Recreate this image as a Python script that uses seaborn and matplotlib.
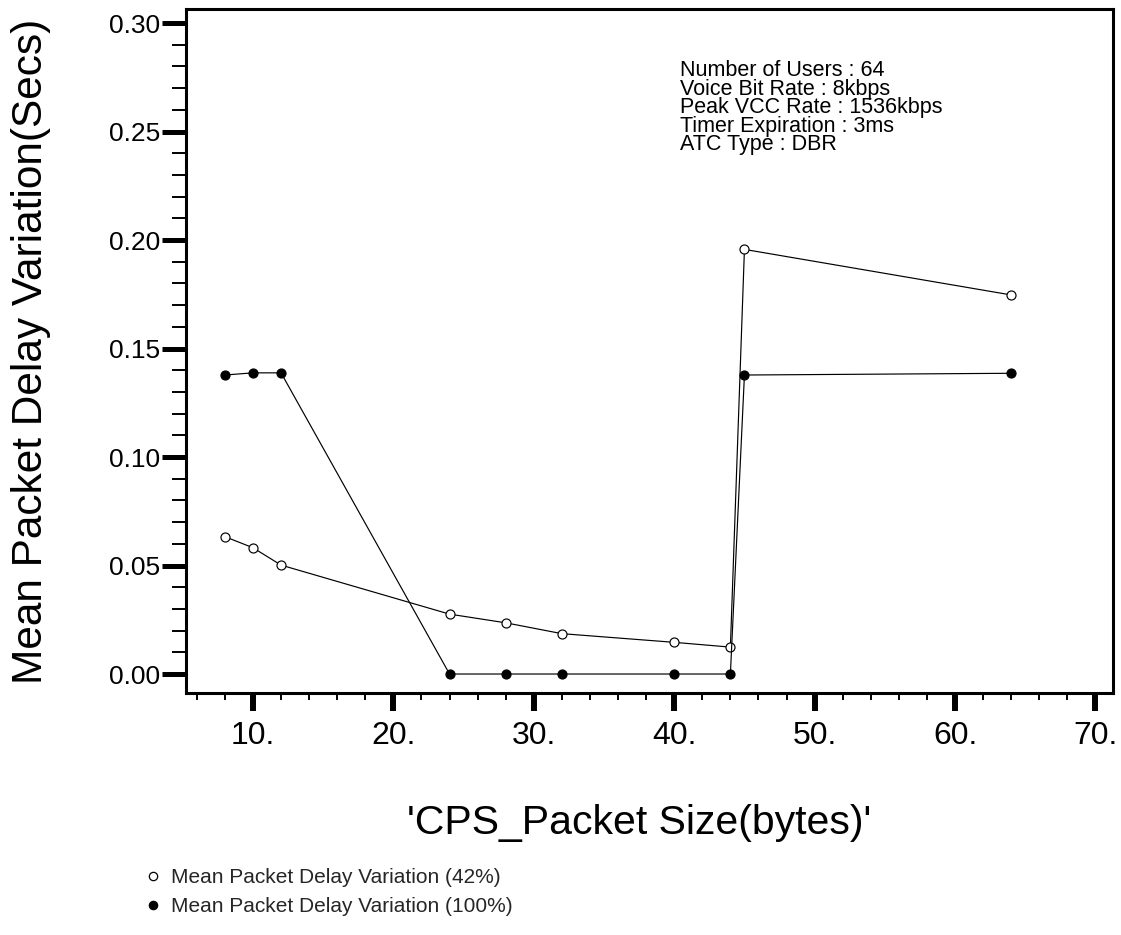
import matplotlib
matplotlib.use("Agg")
import matplotlib.pyplot as plt
from matplotlib.lines import Line2D
from matplotlib.ticker import MultipleLocator, FixedLocator, FuncFormatter
import seaborn as sns
import pandas as pd

# ---- data ----
packet_size = [8, 10, 12, 24, 28, 32, 40, 44, 45, 64]
delay_42 = [0.0633, 0.0582, 0.0502, 0.0276, 0.0236, 0.0186, 0.0146, 0.0124, 0.1957, 0.1747]
delay_100 = [0.1378, 0.1388, 0.1388, 0.0, 0.0, 0.0, 0.0, 0.0, 0.1378, 0.1386]
series_labels = ["Mean Packet Delay Variation (42%)", "Mean Packet Delay Variation (100%)"]
x_ticks = [10, 20, 30, 40, 50, 60, 70]
y_ticks = [0.00, 0.05, 0.10, 0.15, 0.20, 0.25, 0.30]
info_lines = ["Number of Users : 64", "Voice Bit Rate : 8kbps", "Peak VCC Rate : 1536kbps",
              "Timer Expiration : 3ms", "ATC Type : DBR"]

df42 = pd.DataFrame({"size": packet_size, "delay": delay_42})
df100 = pd.DataFrame({"size": packet_size, "delay": delay_100})

sns.set_style("white")
plt.rcParams["font.family"] = ["Liberation Sans", "DejaVu Sans"]

fig = plt.figure(figsize=(11.21, 9.35), dpi=100)
ax = fig.add_axes([0.1659, 0.2588, 0.8270, 0.7316])

common = dict(color="black", linewidth=0.85, marker="o", markersize=6.5,
              markeredgecolor="black", markeredgewidth=0.85, errorbar=None, ax=ax)
sns.lineplot(data=df42, x="size", y="delay", markerfacecolor="white", **common)
sns.lineplot(data=df100, x="size", y="delay", markerfacecolor="black", **common)

ax.set_xlim(5.23, 71.25)
ax.set_ylim(-0.00876, 0.3065)

ax.xaxis.set_major_locator(FixedLocator(x_ticks))
ax.xaxis.set_minor_locator(MultipleLocator(2))
ax.yaxis.set_major_locator(FixedLocator(y_ticks))
ax.yaxis.set_minor_locator(MultipleLocator(0.01))
ax.xaxis.set_major_formatter(FuncFormatter(lambda v, p: f"{int(round(v))}."))
ax.yaxis.set_major_formatter(FuncFormatter(lambda v, p: f"{v:.2f}"))

ax.tick_params(axis="x", which="major", direction="out", length=13, width=4.3,
               labelsize=23, pad=7, color="black", labelcolor="black")
ax.tick_params(axis="x", which="minor", direction="out", length=5, width=1.4, color="black")
ax.tick_params(axis="y", which="major", direction="out", length=17.3, width=3.6,
               labelsize=19, pad=1.5, color="black", labelcolor="black")
ax.tick_params(axis="y", which="minor", direction="out", length=10, width=1.4, color="black")
ax.tick_params(bottom=True, left=True, top=False, right=False, which="both")

for s in ax.spines.values():
    s.set_visible(True)
    s.set_color("black")
    s.set_linewidth(2.2)

ax.set_xlabel("'CPS_Packet Size(bytes)'", fontsize=29.5, color="black")
ax.xaxis.set_label_coords(0.4887, -0.162)
ax.set_ylabel("Mean Packet Delay Variation(Secs)", fontsize=30.5, color="black")
ax.yaxis.set_label_coords(-0.146, 0.50)

ax.text(0.533, 0.925, "\n".join(info_lines), transform=ax.transAxes, fontsize=15.5,
        va="top", ha="left", linespacing=0.84, color="black")

handles = [
    Line2D([], [], linestyle="none", marker="o", markersize=6, markerfacecolor="white",
           markeredgecolor="black", markeredgewidth=0.9, color="black"),
    Line2D([], [], linestyle="none", marker="o", markersize=6, markerfacecolor="black",
           markeredgecolor="black", markeredgewidth=0.9, color="black"),
]
fig.legend(handles, series_labels, loc="upper left", bbox_to_anchor=(0.129, 0.0717),
           frameon=False, fontsize=15, handlelength=0.77, handletextpad=0.5,
           borderpad=0, borderaxespad=0, labelspacing=0.5)

fig.savefig("out.png", dpi=100, facecolor="white")
